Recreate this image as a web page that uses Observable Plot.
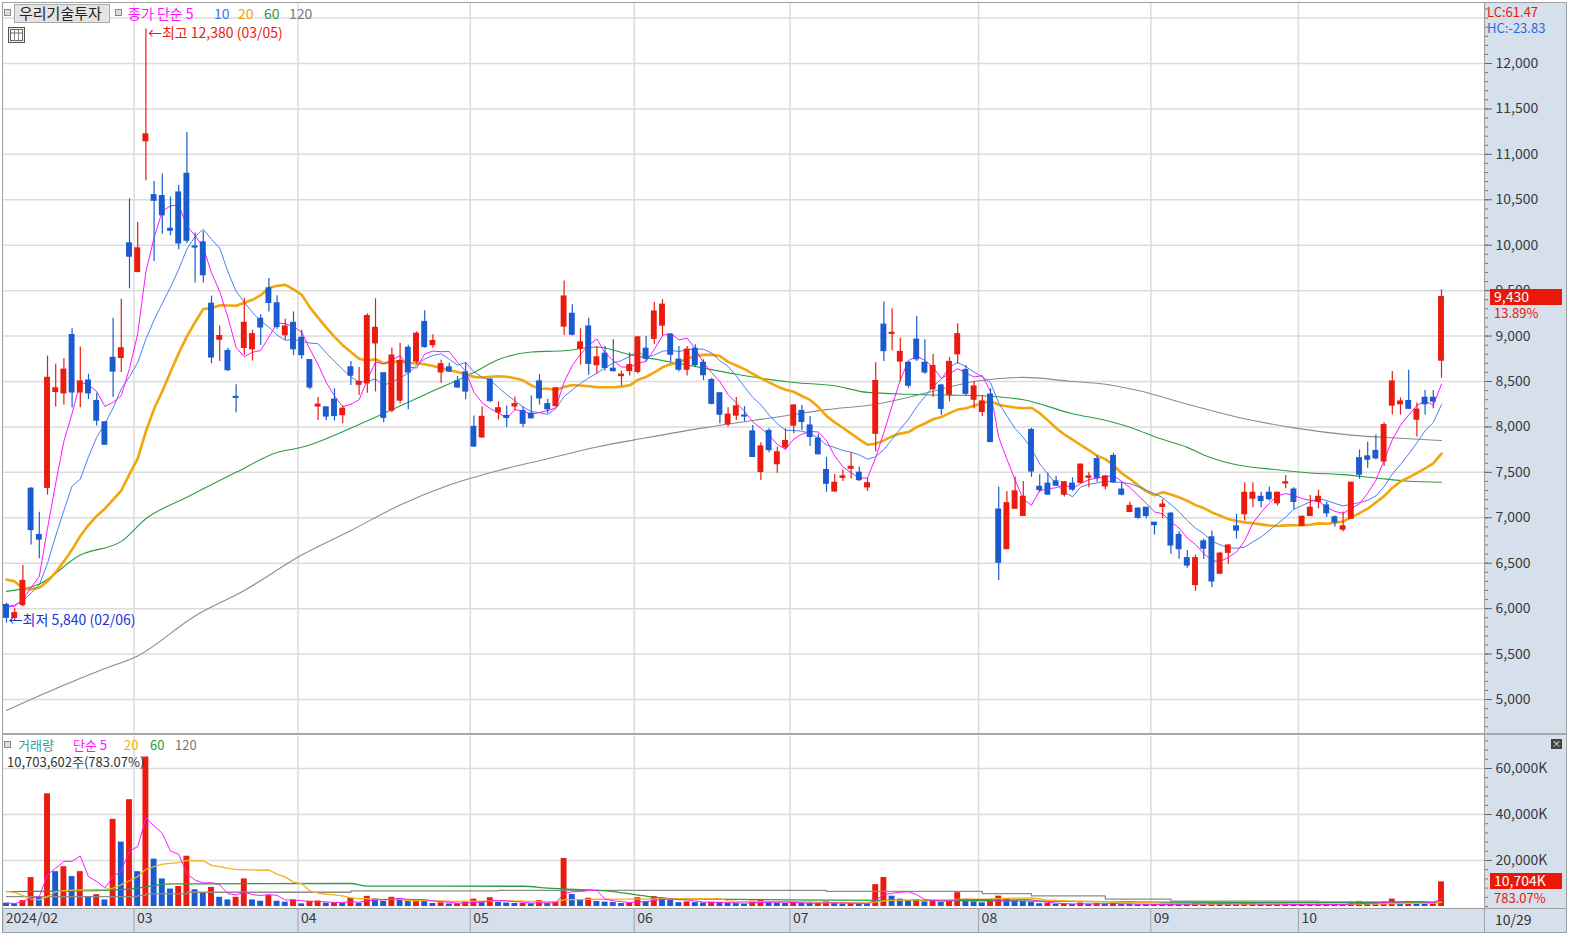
<!DOCTYPE html>
<html><head><meta charset="utf-8">
<script src="https://cdn.jsdelivr.net/npm/d3@7"></script>
<script src="https://cdn.jsdelivr.net/npm/@observablehq/plot@0.6"></script>
<style>
body{margin:0;background:#fff;font-family:"Noto Sans CJK KR","Noto Sans",sans-serif;}
#root{position:relative;width:1588px;height:948px;overflow:hidden;background:#fff;}
.a{position:absolute;white-space:nowrap;line-height:1;}
.plotwrap{position:absolute;left:0;}
</style></head><body><div id="root"></div>
<script>
// ---------- DATA ----------
const monthDays = [
 ["02",[6,7,8,13,14,15,16,19,20,21,22,23,26,27,28,29]],
 ["03",[4,5,6,7,8,11,12,13,14,15,18,19,20,21,22,25,26,27,28,29]],
 ["04",[1,2,3,4,5,8,9,11,12,15,16,17,18,19,22,23,24,25,26,29,30]],
 ["05",[2,3,7,8,9,10,13,14,16,17,20,21,22,23,24,27,28,29,30,31]],
 ["06",[3,4,5,7,10,11,12,13,14,17,18,19,20,21,24,25,26,27,28]],
 ["07",[1,2,3,4,5,8,9,10,11,12,15,16,17,18,19,22,23,24,25,26,29,30,31]],
 ["08",[1,2,5,6,7,8,9,12,13,14,16,19,20,21,22,23,26,27,28,29,30]],
 ["09",[2,3,4,5,6,9,10,11,12,13,19,20,23,24,25,26,27,30]],
 ["10",[2,4,7,8,10,11,14,15,16,17,18,21,22,23,24,25,28,29]]
];
const monthLabels = ["2024/02","03","04","05","06","07","08","09","10"];
const opens = [6040,5900,6040,7320,6810,7330,8385,8370,9010,8380,
8510,8285,8050,8760,8760,10020,9705,11145,10550,10540,
10180,10580,10785,9985,10030,9355,8960,8835,8330,8870,
8855,9190,9525,9360,9010,9145,8980,8735,8225,8215,
8300,8130,8655,8465,8480,8920,8590,8180,8290,8870,
8720,9155,8900,8600,8655,8500,8600,8000,7885,8520,
8160,8120,8225,8175,8145,8500,8250,8230,9105,9245,
8860,9105,8680,8805,8640,8560,8615,8605,8860,8970,
9115,9015,8740,8630,8860,8705,8515,8370,8030,8125,
8125,7950,7505,7955,7590,7775,8015,8175,8015,7870,
7525,7290,7440,7540,7495,7335,7925,9125,9025,8720,
8705,8960,8705,8415,8455,8355,8800,8625,8300,8165,
8355,7090,6655,7100,7020,7965,7340,7375,7400,7255,
7375,7385,7440,7645,7345,7680,7310,7065,7100,7110,
6945,7120,7045,6810,6555,6260,6740,6785,6385,6615,
6905,7040,7210,7230,7275,7160,7378,7310,6910,7020,
7175,7135,7005,6870,6990,7655,7675,7735,7620,8235,
8250,8285,8080,8320,8320,8730];
const highs = [6060,6000,6475,7330,7060,8780,8690,8750,9080,8880,
8580,8370,8060,9195,9405,10510,10250,12380,10700,10785,
10530,10660,11240,10135,10150,9440,9110,8865,8465,9415,
9065,9235,9635,9445,9185,9265,9065,8740,8325,8220,
8420,8230,8720,8655,9245,9410,8600,8870,8920,8900,
9045,9280,9015,8735,8700,8555,8710,8120,8220,8530,
8275,8230,8330,8220,8340,8575,8305,8430,9605,9345,
9080,9195,8885,8885,8960,8615,8815,8995,8995,9370,
9400,9020,8885,8885,8905,8740,8535,8375,8210,8325,
8225,8015,7825,7980,7780,7980,8245,8235,8115,7920,
7665,7480,7525,7715,7560,7435,8705,9375,9300,8975,
8720,9215,8960,8800,8470,8765,9135,8675,8500,8345,
8420,7340,7290,7450,7400,7985,7475,7490,7455,7400,
7440,7590,7500,7680,7460,7710,7390,7170,7110,7110,
6950,7200,7055,6845,6640,6590,6765,6855,6620,6700,
7040,7385,7385,7280,7340,7280,7465,7330,7020,7245,
7305,7175,7020,7065,7390,7745,7835,7910,8045,8610,
8320,8625,8262,8400,8400,9510];
const lows = [5840,5870,6020,6700,6550,7250,8220,8240,8210,8210,
8300,8010,7795,8325,8600,9520,9700,10710,9820,10120,
10105,9950,10020,9585,9585,8695,8720,8610,8155,8785,
8725,8895,9265,9075,8955,8785,8745,8410,8070,8070,
8065,8035,8455,8345,8370,8385,8045,8155,8255,8190,
8690,8865,8865,8480,8600,8425,8300,7775,7875,8265,
8075,7995,8175,7995,8090,8240,8145,8220,9005,9000,
8680,8570,8585,8615,8605,8450,8560,8585,8715,8910,
9005,8715,8605,8560,8655,8510,8245,8035,8000,8070,
8055,7665,7410,7715,7490,7750,7925,7960,7785,7690,
7280,7280,7400,7425,7400,7290,7725,8720,8835,8500,
8425,8720,8580,8325,8125,8275,8690,8345,8200,8115,
7825,6310,6650,7090,7020,7445,7275,7245,7345,7230,
7290,7375,7330,7390,7305,7380,7240,7055,6985,6990,
6810,6990,6600,6545,6445,6190,6540,6230,6375,6485,
6765,6965,7110,7110,7185,7130,7320,7085,6905,7015,
7100,7005,6895,6845,6985,7425,7545,7635,7565,8130,
8130,8195,7890,8130,8200,8535];
const closes = [5900,5950,6305,6865,6760,8540,8425,8630,8380,8500,
8370,8070,7805,8610,8865,9875,9965,11220,10490,10330,
10160,10020,10050,9975,9670,8765,9000,8625,8320,9145,
9020,9095,9365,9100,9105,8855,8790,8435,8245,8115,
8120,8200,8565,8495,9220,9090,8100,8785,8725,8600,
9025,8880,8945,8690,8610,8435,8390,7785,8110,8285,
8205,8100,8250,8035,8095,8315,8195,8425,9435,9015,
8930,8695,8765,8650,8615,8575,8680,8985,8750,9270,
9345,8795,8630,8850,8680,8570,8255,8135,8135,8225,
8115,7670,7785,7745,7720,7845,8235,8055,7890,7700,
7375,7385,7455,7560,7415,7380,8505,8835,9035,8825,
8455,8745,8600,8670,8200,8715,9020,8365,8445,8280,
7835,6505,7160,7290,7230,7510,7305,7255,7355,7390,
7310,7585,7455,7440,7455,7390,7255,7130,7000,7020,
6920,7145,6695,6655,6475,6555,6660,6300,6605,6695,
6860,7275,7275,7185,7205,7275,7390,7175,7010,7110,
7230,7050,6950,6905,7385,7475,7640,7655,8020,8500,
8280,8200,8190,8250,8280,9430];
// volume in thousands of shares
const volumes = [1430,1140,2570,12570,4000,49000,15150,17290,13000,15150,
4000,5140,2860,37870,28000,46440,15150,65000,20580,12000,
7570,8720,21860,7290,5720,8290,4000,2860,4000,12000,
2860,2290,4720,2290,1860,2860,1140,2290,2400,1430,
1500,1430,3570,1430,4430,3290,2290,4000,3500,2500,
2800,2200,1300,1600,1100,1200,1900,3200,2100,3800,
1800,1500,1300,1400,1200,2600,1300,2000,20900,5200,
3000,3600,2200,1900,1700,1300,1500,3800,2200,4300,
3600,2800,1700,2000,1700,1500,1900,1800,1400,1300,
1000,2300,2600,1900,1500,1300,1800,1400,1300,1500,
2000,1600,1100,1300,1200,1100,9500,12600,4500,3200,
2400,3000,2000,2600,1800,2500,6000,3000,2000,1600,
2600,4500,3500,2500,2200,1800,1200,1300,1000,1100,
900,1500,1000,1300,1100,1400,1000,900,800,800,
900,800,1300,1100,1000,1300,900,1700,1200,900,
800,1600,1100,900,800,900,1000,900,800,900,
1000,800,700,800,1800,2200,1400,1300,2000,3200,
1800,2200,1600,1300,1366.88,10703.602];
const lastShares = 10703602;
const ma5Head = [6017,6026,6102,6230];
const ma10Head = [6020,6040,6090,6170,6260,6500,6800,7080,7350];
const ma20Head = [6320,6300,6220,6215,6230,6300,6400,6520,6650,6800,6920,7020,7100,7200,7300,7480,7650,7950,8200];
const ma60Pts = [[0,6190],[4,6270],[9,6590],[14,6740],[17,6990],[22,7225],[28,7500],[33,7718],[36,7776],[43,8027],[51,8355],[57,8600],[60,8741],[64,8825],[68,8839],[72,8880],[76,8796],[80,8730],[86,8631],[89,8580],[96,8489],[101,8453],[105,8380],[110,8360],[115,8350],[118,8346],[124,8299],[130,8146],[134,8073],[138,7964],[140,7892],[144,7775],[146,7692],[150,7583],[155,7529],[159,7493],[163,7475],[167,7438],[171,7402],[175,7391]];
const ma120Pts = [[0,4880],[5,5080],[12,5340],[16,5480],[23,5920],[29,6200],[36,6590],[42,6860],[48,7140],[54,7360],[60,7520],[66,7650],[72,7780],[78,7880],[85,7990],[94,8110],[100,8190],[106,8250],[112,8370],[118,8500],[124,8545],[130,8500],[134,8470],[138,8400],[144,8250],[150,8110],[157,7990],[164,7910],[170,7875],[175,7850]];
const vma5Head = [1500,1300,2200,3800];
const vma20Head = [6570,6140,4700,3300,2860,4300,6400,6900,7100,7200,7200,7300,7400,8000,9500,11200,13000,16150,17300];
const vma60Pts = [[0,6500],[12,7000],[16,8000],[20,9800],[42,10000],[44,8900],[63,8800],[66,8000],[74,6500],[78,4500],[82,3300],[100,2800],[120,2500],[140,1900],[160,1700],[175,1700]];
const vma120Pts = [[0,4300],[16,4800],[17,5500],[22,6200],[42,6800],[60,7000],[100,6600],[119,5600],[125,4600],[134,3200],[142,2300],[160,2000],[175,1900]];

// ---------- DERIVED ----------
const RED="#ec1b0f", BLUE="#1a5bd0";
const N = closes.length;
const idx = d3.range(N);
const dates = monthDays.flatMap(([m, ds]) => ds.map(d => `${m}/${String(d).padStart(2,"0")}`));
const monthStart = []; { let k = 0; for (const [, ds] of monthDays) { monthStart.push(k); k += ds.length; } }
const monthTicks = monthStart.map(i => i - 0.45);
const tickLabel = new Map(monthTicks.map((t, k) => [t, monthLabels[k]]));
function maWithHead(src, n, head) { return idx.map(i => i < n - 1 ? head[i] : d3.mean(src.slice(i - n + 1, i + 1))); }
const ma5 = maWithHead(closes, 5, ma5Head), ma10 = maWithHead(closes, 10, ma10Head), ma20 = maWithHead(closes, 20, ma20Head);
const vma5 = maWithHead(volumes, 5, vma5Head), vma20 = maWithHead(volumes, 20, vma20Head);
const up = idx.filter(i => closes[i] >= opens[i]), dn = idx.filter(i => closes[i] < opens[i]);
const vUp = idx.filter(i => i > 0 && volumes[i] > volumes[i-1]), vDn = idx.filter(i => !(i > 0 && volumes[i] > volumes[i-1]));
const iMax = d3.maxIndex(highs), iMin = d3.minIndex(lows);
const fmt = d3.format(",");
const last = closes[N-1], prev = closes[N-2];

const FONT = '"Noto Sans CJK KR","Noto Sans",sans-serif';
const root = document.getElementById("root");
function box(l, t, w, h, css) { const d = document.createElement("div"); d.className = "a"; d.style.cssText += `left:${l}px;top:${t}px;width:${w}px;height:${h}px;` + (css||""); root.appendChild(d); return d; }
function txt(l, cy, s, color, size, extra) { const d = document.createElement("div"); d.className = "a"; d.textContent = s; d.style.cssText += `left:${l}px;top:${cy - size/2 - 1}px;font-size:${size}px;color:${color};font-family:${FONT};` + (extra||""); root.appendChild(d); return d; }

// backgrounds & frames
box(1484, 2, 82, 931, "background:#d6e0ec;");
box(2, 908, 1564, 24, "background:#d6e0ec;");

const xScale = {type: "linear", domain: [0, N - 1], range: [6, 6 + 8.2 * (N - 1)], axis: null};

// ---------- PRICE PANE ----------
const price = Plot.plot({
  width: 1588, height: 730, marginLeft: 2, marginRight: 104, marginTop: 0, marginBottom: 0,
  style: {background: "transparent", fontFamily: FONT, fontSize: "14px", color: "#444", overflow: "visible"},
  x: xScale,
  y: {type: "linear", domain: [5000, 12000], range: [696, 60], axis: null},
  marks: [
    Plot.ruleY(d3.range(5000, 12501, 500), {stroke: "#dcdcdc", strokeWidth: 1.5}),
    Plot.ruleX(monthTicks.slice(1), {stroke: "#dcdcdc", strokeWidth: 1.5}),
    Plot.line(ma120Pts, {x: d => d[0], y: d => d[1], stroke: "#8c8c8c", strokeWidth: 1.1, curve: "monotone-x"}),
    Plot.line(ma60Pts, {x: d => d[0], y: d => d[1], stroke: "#2a9e44", strokeWidth: 1.1, curve: "monotone-x"}),
    Plot.line(idx, {x: i => i, y: i => ma20[i], stroke: "#f2a50c", strokeWidth: 2.6}),
    Plot.line(idx, {x: i => i, y: i => ma10[i], stroke: "#4d7ef5", strokeWidth: 1}),
    Plot.line(idx, {x: i => i, y: i => ma5[i], stroke: "#ff14ff", strokeWidth: 1}),
    Plot.ruleX(up, {x: i => i, y1: i => lows[i], y2: i => highs[i], stroke: RED, strokeWidth: 1.2}),
    Plot.ruleX(dn, {x: i => i, y1: i => lows[i], y2: i => highs[i], stroke: BLUE, strokeWidth: 1.2}),
    Plot.rect(up, {x1: i => i - 0.36, x2: i => i + 0.36, y1: i => opens[i], y2: i => closes[i], fill: RED, insetTop: -0.6, insetBottom: -0.6}),
    Plot.rect(dn, {x1: i => i - 0.36, x2: i => i + 0.36, y1: i => opens[i], y2: i => closes[i], fill: BLUE, insetTop: -0.6, insetBottom: -0.6}),
    Plot.text([iMax], {x: d => d, y: d => highs[d], text: d => `←최고 ${fmt(highs[d])} (${dates[d]})`, textAnchor: "start", dx: 2, dy: 5, fill: RED, fontSize: 14}),
    Plot.text([iMin], {x: d => d, y: d => lows[d], text: d => `←최저 ${fmt(lows[d])} (${dates[d]})`, textAnchor: "start", dx: 2, dy: -3, fill: "#1535d8", fontSize: 14}),
    Plot.axisY({anchor: "right", ticks: d3.range(4700, 12700, 100), tickSize: 3, tickFormat: () => "", stroke: "#777"}),
    Plot.axisY({anchor: "right", ticks: d3.range(5000, 12001, 500), tickSize: 7, tickPadding: 4, tickFormat: d => fmt(d), stroke: "#666", fill: "#3a3a3a", fontSize: 14})
  ]
});
const pw = document.createElement("div"); pw.className = "plotwrap"; pw.style.top = "3px"; pw.appendChild(price); root.appendChild(pw);

// ---------- VOLUME PANE ----------
const vol = Plot.plot({
  width: 1588, height: 196, marginLeft: 2, marginRight: 104, marginTop: 0, marginBottom: 24,
  style: {background: "transparent", fontFamily: FONT, fontSize: "14px", color: "#444", overflow: "visible"},
  x: xScale,
  y: {type: "linear", domain: [0, 60000], range: [170, 32], axis: null},
  marks: [
    Plot.ruleY([20000, 40000, 60000], {stroke: "#dcdcdc", strokeWidth: 1.5}),
    Plot.ruleX(monthTicks.slice(1), {y1: 0, y2: 74000, stroke: "#dcdcdc", strokeWidth: 1.5}),
    Plot.rect(vUp, {x1: i => i - 0.36, x2: i => i + 0.36, y1: 0, y2: i => volumes[i], fill: RED}),
    Plot.rect(vDn, {x1: i => i - 0.36, x2: i => i + 0.36, y1: 0, y2: i => volumes[i], fill: BLUE}),
    Plot.line(vma120Pts, {x: d => d[0], y: d => d[1], stroke: "#8c8c8c", strokeWidth: 1.3, curve: "step-after"}),
    Plot.line(vma60Pts, {x: d => d[0], y: d => d[1], stroke: "#2a9e44", strokeWidth: 1.3, curve: "monotone-x"}),
    Plot.line(idx, {x: i => i, y: i => vma20[i], stroke: "#f2b21c", strokeWidth: 1.3}),
    Plot.line(idx, {x: i => i, y: i => vma5[i], stroke: "#ff14ff", strokeWidth: 1}),
    Plot.axisY({anchor: "right", ticks: d3.range(0, 72001, 4000), tickSize: 3, tickFormat: () => "", stroke: "#777"}),
    Plot.axisY({anchor: "right", ticks: [20000, 40000, 60000], tickSize: 7, tickPadding: 4, tickFormat: d => fmt(d) + "K", stroke: "#666", fill: "#3a3a3a", fontSize: 14}),
    Plot.axisX({anchor: "bottom", ticks: monthTicks, tickSize: 24, tickFormat: () => "", stroke: "#9aa3ae"}),
    Plot.axisX({anchor: "bottom", ticks: monthTicks, tickSize: 0, tickPadding: 5, tickFormat: d => tickLabel.get(d), textAnchor: "start", dx: 3, fill: "#3a3a3a", fontSize: 14})
  ]
});
const vw = document.createElement("div"); vw.className = "plotwrap"; vw.style.top = "736px"; vw.appendChild(vol); root.appendChild(vw);

// ---------- FRAME LINES ----------
box(2, 2, 1564, 1, "background:#a0a0a0;");
box(2, 2, 1, 931, "background:#a0a0a0;");
box(1484, 2, 1, 931, "background:#a0a0a0;");
box(1566, 2, 1, 931, "background:#a0a0a0;");
box(2, 733, 1564, 2, "background:#a8a8a8;");
box(2, 908, 1564, 1, "background:#a0a0a0;");
box(2, 932, 1565, 1, "background:#a0a0a0;");

// ---------- LEGENDS & LABELS ----------
box(4, 9, 5, 5, "border:1px solid #888;background:#ddd;");
box(14, 4, 96, 19, "background:#e4e4e4;border:1px solid #a8a8a8;box-sizing:border-box;");
txt(19, 13.5, "우리기술투자", "#222", 15);
box(115, 9, 5, 5, "border:1px solid #888;background:#ddd;");
txt(128, 14, "종가 단순 5", "#ff14ff", 14);
txt(214, 14, "10", "#3b73e8", 14);
txt(238, 14, "20", "#f0a500", 14);
txt(264, 14, "60", "#1f9b38", 14);
txt(289, 14, "120", "#777", 14);
// grid icon
const gi = box(8, 27, 17, 16, "border:1px solid #555;background:#eee;box-sizing:border-box;");
gi.innerHTML = '<svg width="15" height="14" style="display:block"><rect x="1.5" y="1.5" width="12" height="11" fill="#fff" stroke="#666"/><line x1="1.5" y1="5" x2="13.5" y2="5" stroke="#666"/><line x1="5.5" y1="1.5" x2="5.5" y2="12.5" stroke="#888"/><line x1="9.5" y1="1.5" x2="9.5" y2="12.5" stroke="#888"/></svg>';

txt(1487, 12, `LC:${((last / lows[iMin] - 1) * 100).toFixed(2)}`, "#e8180c", 13);
txt(1487, 28, `HC:${((last / highs[iMax] - 1) * 100).toFixed(2)}`, "#2a6ad8", 13);

const yTag = 3 + price.scale("y").apply(last);
box(1490, yTag - 8, 72, 16, "background:#e8190b;");
txt(1494, yTag, fmt(last), "#fff", 14);
txt(1494, yTag + 17, `${((last / prev - 1) * 100).toFixed(2)}%`, "#e8190b", 13);

// volume legend
box(4, 741, 5, 5, "border:1px solid #888;background:#ddd;");
txt(18, 745, "거래량", "#2c9ea3", 13);
txt(73, 745, "단순 5", "#ff14ff", 13);
txt(124, 745, "20", "#f0b000", 13);
txt(150, 745, "60", "#1f9b38", 13);
txt(175, 745, "120", "#777", 13);
txt(7, 762, `${fmt(lastShares)}주(${(volumes[N-1] / volumes[N-2] * 100).toFixed(2)}%)`, "#333", 13);
const xi = box(1551, 739, 11, 10, "background:#444;color:#fff;font-size:9px;text-align:center;line-height:10px;");
xi.textContent = "×";

const yVTag = 736 + vol.scale("y").apply(volumes[N-1]);
box(1490, yVTag - 8, 72, 16, "background:#e8190b;");
txt(1494, yVTag, fmt(Math.round(volumes[N-1])) + "K", "#fff", 14);
txt(1494, yVTag + 17, `${(volumes[N-1] / volumes[N-2] * 100).toFixed(2)}%`, "#e8190b", 13);

txt(1495, 920, dates[N-1], "#333", 14);
</script></body></html>
